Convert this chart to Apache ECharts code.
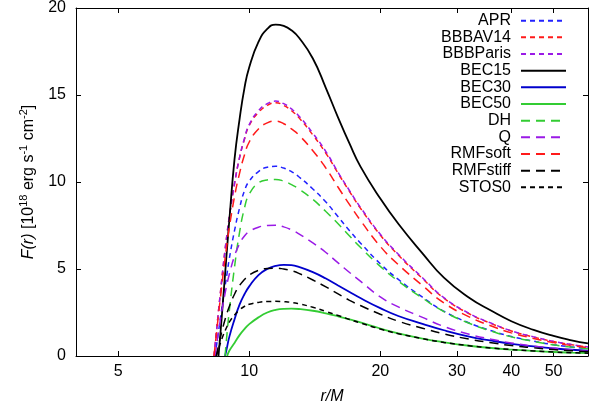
<!DOCTYPE html>
<html><head><meta charset="utf-8">
<script src="https://cdn.jsdelivr.net/npm/echarts@6/dist/echarts.min.js"></script>
<style>html,body{margin:0;padding:0;background:#fff}#c{width:603px;height:418px}</style>
</head><body><div id="c"></div>
<script>
// radius grid (r/M)
const radii = [8.3, 8.35, 8.4, 8.5, 8.6, 8.7, 8.8, 8.9, 9.0, 9.25, 9.5, 9.75, 10, 10.5, 11, 11.5, 12, 12.5, 13, 14, 15, 16, 17, 18, 20, 22, 25, 28, 32, 36, 40, 45, 50, 55, 60];
// F(r) in 10^18 erg s^-1 cm^-2 (null = inside the inner edge)
const APR      = [null, 0, 0.5, 1.4, 2.3, 3.15, 4.0, 4.8, 5.6, 7.2, 8.5, 9.5, 10.05, 10.6, 10.85, 10.9, 10.8, 10.6, 10.3, 9.6, 8.85, 8.0, 7.2, 6.5, 5.3, 4.4, 3.38, 2.57, 1.9, 1.45, 1.12, 0.85, 0.65, 0.52, 0.42];
const BBBAV14  = [0, 0.65, 1.3, 2.6, 3.8, 5.0, 6.1, 7.1, 8.0, 9.9, 11.4, 12.45, 13.25, 14.0, 14.4, 14.55, 14.4, 14.1, 13.7, 12.7, 11.65, 10.5, 9.45, 8.5, 6.95, 5.8, 4.45, 3.32, 2.43, 1.86, 1.44, 1.09, 0.83, 0.65, 0.51];
const BBBParis = [0, 0.65, 1.3, 2.6, 3.8, 5.0, 6.1, 7.1, 8.0, 9.9, 11.4, 12.5, 13.3, 14.1, 14.5, 14.65, 14.5, 14.2, 13.8, 12.8, 11.75, 10.55, 9.5, 8.55, 7.0, 5.85, 4.5, 3.35, 2.45, 1.88, 1.45, 1.1, 0.84, 0.66, 0.52];
const BEC15    = [null, null, null, 0, 1.5, 3.1, 4.7, 6.3, 7.8, 11.3, 13.6, 15.4, 16.6, 18.05, 18.8, 19.05, 18.97, 18.72, 18.3, 17.1, 15.4, 13.7, 12.2, 10.9, 9.05, 7.6, 5.9, 4.5, 3.35, 2.6, 2.0, 1.5, 1.15, 0.9, 0.72];
const BEC30    = [null, null, null, null, null, null, 0, 0.55, 1.1, 2.1, 2.95, 3.55, 4.0, 4.65, 5.0, 5.18, 5.24, 5.22, 5.12, 4.82, 4.45, 4.05, 3.68, 3.33, 2.75, 2.3, 1.85, 1.48, 1.12, 0.88, 0.7, 0.55, 0.44, 0.36, 0.31];
const BEC50    = [null, null, null, null, null, null, null, 0, 0.3, 0.75, 1.2, 1.55, 1.83, 2.22, 2.5, 2.65, 2.71, 2.72, 2.7, 2.6, 2.45, 2.28, 2.1, 1.93, 1.58, 1.3, 1.0, 0.79, 0.59, 0.46, 0.37, 0.29, 0.23, 0.19, 0.16];
const DH       = [null, null, null, null, null, null, 0, 1.4, 2.6, 5.1, 7.1, 8.5, 9.3, 9.95, 10.12, 10.15, 10.05, 9.85, 9.6, 9.0, 8.3, 7.6, 6.9, 6.25, 5.15, 4.3, 3.33, 2.55, 1.88, 1.43, 1.1, 0.84, 0.64, 0.51, 0.41];
const Q        = [null, 0, 0.5, 1.4, 2.2, 2.95, 3.6, 4.2, 4.7, 5.75, 6.45, 6.9, 7.15, 7.4, 7.5, 7.52, 7.42, 7.25, 7.02, 6.5, 5.95, 5.35, 4.8, 4.3, 3.4, 2.82, 2.22, 1.7, 1.25, 0.96, 0.75, 0.57, 0.44, 0.35, 0.28];
const RMFsoft  = [0, 0.6, 1.2, 2.4, 3.5, 4.6, 5.6, 6.55, 7.4, 9.15, 10.5, 11.55, 12.3, 13.05, 13.4, 13.5, 13.35, 13.05, 12.7, 11.8, 10.8, 9.7, 8.7, 7.8, 6.3, 5.25, 4.05, 3.05, 2.25, 1.72, 1.33, 1.01, 0.77, 0.6, 0.48];
const RMFstiff = [null, null, 0, 0.6, 1.15, 1.65, 2.1, 2.5, 2.85, 3.55, 4.05, 4.4, 4.65, 4.92, 5.03, 5.05, 5.0, 4.9, 4.75, 4.37, 3.97, 3.57, 3.2, 2.9, 2.4, 2.0, 1.6, 1.27, 0.97, 0.76, 0.6, 0.47, 0.37, 0.3, 0.25];
const STOS0    = [null, null, 0, 0.4, 0.8, 1.15, 1.45, 1.72, 1.95, 2.35, 2.65, 2.85, 2.97, 3.08, 3.13, 3.14, 3.12, 3.08, 3.0, 2.8, 2.56, 2.33, 2.1, 1.9, 1.55, 1.28, 1.0, 0.78, 0.59, 0.46, 0.37, 0.29, 0.23, 0.19, 0.16];

const xTicks = [5, 10, 20, 30, 40, 50];
const seriesNames = ['APR', 'BBBAV14', 'BBBParis', 'BEC15', 'BEC30', 'BEC50', 'DH', 'Q', 'RMFsoft', 'RMFstiff', 'STOS0'];
const seriesValues = [APR, BBBAV14, BBBParis, BEC15, BEC30, BEC50, DH, Q, RMFsoft, RMFstiff, STOS0];

const SHORT = [5, 4], LONG = [9, 6];
const styles = {
  APR:      {color: '#2222ff', type: SHORT, width: 1.5},
  BBBAV14:  {color: '#ff1a1a', type: SHORT, width: 1.5},
  BBBParis: {color: '#9a1ae6', type: SHORT, width: 1.5},
  BEC15:    {color: '#000000', type: 'solid', width: 1.8},
  BEC30:    {color: '#0000cc', type: 'solid', width: 1.8},
  BEC50:    {color: '#33cc33', type: 'solid', width: 1.8},
  DH:       {color: '#33cc33', type: LONG, width: 1.5},
  Q:        {color: '#9a1ae6', type: LONG, width: 1.5},
  RMFsoft:  {color: '#ff1a1a', type: LONG, width: 1.5},
  RMFstiff: {color: '#000000', type: LONG, width: 1.5},
  STOS0:    {color: '#000000', type: SHORT, width: 1.5}
};

const FONT = '"Liberation Sans", Arial, sans-serif';
const chart = echarts.init(document.getElementById('c'), null, {renderer: 'canvas'});

const series = seriesNames.map((name, k) => ({
  name: name,
  type: 'line',
  xAxisIndex: 0, yAxisIndex: 0,
  symbol: 'none',
  smooth: 0.5,
  data: radii.map((r, i) => [r, seriesValues[k][i]]).filter(p => p[1] !== null),
  lineStyle: {color: styles[name].color, type: styles[name].type, width: styles[name].width},
  itemStyle: {color: styles[name].color},
  emphasis: {disabled: true},
  animation: false
}));

const axisLineStyle = {show: true, onZero: false, lineStyle: {color: '#000', width: 1}};
const tickStyle = {show: true, inside: true, length: 5, lineStyle: {color: '#000', width: 1}};

chart.setOption({
  animation: false,
  backgroundColor: '#fff',
  grid: {left: 76, right: 15, top: 6, bottom: 62, containLabel: false},
  legend: {
    data: seriesNames,
    orient: 'vertical',
    right: 36,
    top: 12.7,
    padding: 0,
    itemWidth: 45,
    itemHeight: 10,
    itemGap: 0.66,
    align: 'right',
    selectedMode: false,
    itemStyle: {opacity: 0},
    formatter: n => '{t|' + n + '}',
    textStyle: {
      rich: {t: {width: 100, align: 'right', fontSize: 16, fontFamily: FONT, color: '#000', lineHeight: 16, padding: [0, 5, 0, 0]}}
    }
  },
  xAxis: [
    {
      type: 'log', min: 4, max: 60, position: 'bottom',
      axisLine: axisLineStyle,
      axisTick: Object.assign({customValues: xTicks}, tickStyle),
      minorTick: {show: false},
      axisLabel: {customValues: xTicks, color: '#000', fontSize: 16, fontFamily: FONT, margin: 8},
      splitLine: {show: false},
      name: 'r/M', nameLocation: 'middle', nameGap: 33,
      nameTextStyle: {fontStyle: 'italic', fontSize: 16, fontFamily: FONT, color: '#000'}
    },
    {
      type: 'log', min: 4, max: 60, position: 'top',
      axisLine: axisLineStyle,
      axisTick: Object.assign({customValues: xTicks}, tickStyle),
      minorTick: {show: false},
      axisLabel: {show: false},
      splitLine: {show: false}
    }
  ],
  yAxis: [
    {
      type: 'value', min: 0, max: 20, interval: 5, position: 'left',
      axisLine: axisLineStyle,
      axisTick: tickStyle,
      axisLabel: {color: '#000', fontSize: 16, fontFamily: FONT, margin: 10},
      splitLine: {show: false},
      name: '{i|F(r)}{n| [10}{s|18}{n| erg s}{s|-1}{n| cm}{s|-2}{n|]}',
      nameLocation: 'middle', nameRotate: 90, nameGap: 36,
      nameTextStyle: {
        fontSize: 16, fontFamily: FONT, color: '#000',
        rich: {
          i: {fontStyle: 'italic', fontSize: 16, fontFamily: FONT, color: '#000', lineHeight: 22},
          n: {fontSize: 16, fontFamily: FONT, color: '#000', lineHeight: 22},
          s: {fontSize: 11, fontFamily: FONT, color: '#000', lineHeight: 12, verticalAlign: 'top'}
        }
      }
    },
    {
      type: 'value', min: 0, max: 20, interval: 5, position: 'right',
      axisLine: axisLineStyle,
      axisTick: tickStyle,
      axisLabel: {show: false},
      splitLine: {show: false}
    }
  ],
  series: series
});
</script>
</body></html>
